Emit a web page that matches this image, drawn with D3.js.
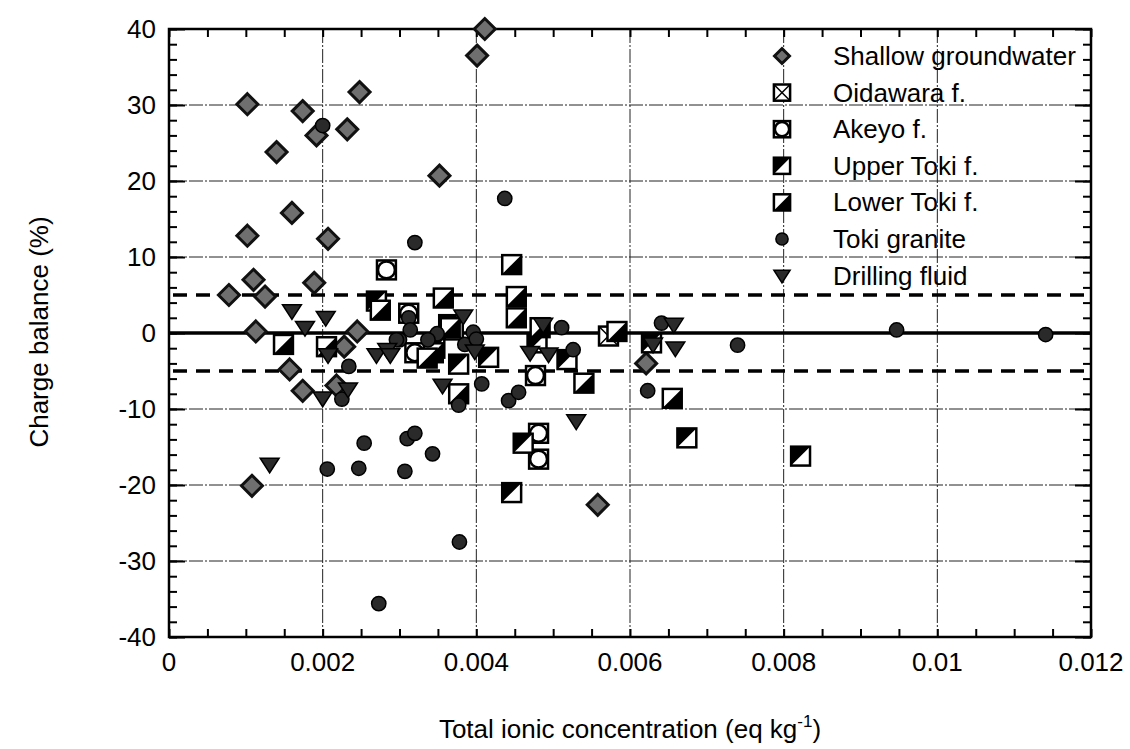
<!DOCTYPE html>
<html>
<head>
<meta charset="utf-8">
<script src="https://cdn.jsdelivr.net/npm/d3@7"></script>
<style>
  body { margin: 0; background: #fff; }
  svg { font-family: "Liberation Sans", Arial, Helvetica, sans-serif; }
</style>
</head>
<body>
<svg id="chart" width="1130" height="749"></svg>
<script>
// data: [total ionic concentration (eq/kg), charge balance (%)]
const shallowGroundwater = [
  [0.00411, 40], [0.00401, 36.5], [0.00248, 31.7], [0.00102, 30.1], [0.00174, 29.2],
  [0.00232, 26.8], [0.00192, 26.0], [0.0014, 23.8], [0.00352, 20.7], [0.0016, 15.8],
  [0.00102, 12.8], [0.00207, 12.4], [0.0011, 7.0], [0.00189, 6.6], [0.00078, 5.0],
  [0.00125, 4.8], [0.00113, 0.2], [0.00245, 0.2], [0.00228, -1.8], [0.00157, -4.8],
  [0.00174, -7.6], [0.00218, -6.9], [0.00108, -20.1], [0.00621, -4.0], [0.00558, -22.6]
];
const oidawara = [[0.00572, -0.4], [0.0037, 0.4]];
const akeyo = [
  [0.00283, 8.3], [0.00312, 2.6], [0.0032, -2.6], [0.00477, -5.6],
  [0.00481, -13.2], [0.00481, -16.6]
];
const upperToki = [
  [0.0027, 4.2], [0.00479, -1.3], [0.00518, -3.5], [0.00461, -14.5], [0.00446, -21.0],
  [0.00674, -13.8], [0.00822, -16.2], [0.00377, -4.1], [0.00346, -2.0], [0.00416, -3.2],
  [0.00628, -1.3], [0.00364, 1.1]
];
const lowerToki = [
  [0.00446, 9.0], [0.00357, 4.6], [0.00452, 4.8], [0.00452, 2.0], [0.00483, 0.7],
  [0.0054, -6.6], [0.00655, -8.6], [0.00583, 0.2], [0.00149, -1.5], [0.00205, -1.8],
  [0.00275, 3.0], [0.00366, 0.7], [0.00344, -2.6], [0.00377, -8.0], [0.00336, -3.3]
];
const tokiGranite = [
  [0.0020, 27.3], [0.00437, 17.7], [0.0032, 11.9], [0.00312, 2.0], [0.003, -0.9],
  [0.00314, 0.4], [0.00234, -4.4], [0.00225, -8.7], [0.00407, -6.7], [0.00377, -9.5],
  [0.00349, -0.1], [0.00396, 0.1], [0.00337, -0.9], [0.00511, 0.7], [0.00526, -2.2],
  [0.00442, -8.9], [0.00455, -7.8], [0.00641, 1.3], [0.00623, -7.6], [0.00343, -15.9],
  [0.00378, -27.5], [0.0074, -1.6], [0.00947, 0.4], [0.01141, -0.2], [0.00254, -14.5],
  [0.00206, -17.9], [0.00247, -17.8], [0.0031, -13.9], [0.0032, -13.2], [0.00307, -18.2],
  [0.00273, -35.6], [0.00296, -0.9], [0.00385, -1.5], [0.0040, -0.8]
];
const drillingFluid = [
  [0.0016, 2.9], [0.00204, 2.0], [0.00177, 0.7], [0.00207, -2.9], [0.002, -8.6],
  [0.00233, -7.4], [0.0027, -2.9], [0.00284, -2.2], [0.00131, -17.3], [0.00356, -6.9],
  [0.00398, -2.4], [0.0047, -2.6], [0.00494, -2.8], [0.00383, 2.2], [0.00657, 1.1],
  [0.00659, -2.0], [0.0053, -11.6], [0.00288, -2.9], [0.0063, -1.5], [0.00487, 1.1]
];

const xTicks = [0, 0.002, 0.004, 0.006, 0.008, 0.01, 0.012];
const xTickLabels = ["0", "0.002", "0.004", "0.006", "0.008", "0.01", "0.012"];
const yTicks = [-40, -30, -20, -10, 0, 10, 20, 30, 40];
const limitLines = [5, -5];

const series = [
  { name: "Shallow groundwater", mark: "diamond", data: shallowGroundwater },
  { name: "Oidawara f.", mark: "cross", data: oidawara },
  { name: "Akeyo f.", mark: "ring", data: akeyo },
  { name: "Upper Toki f.", mark: "upper", data: upperToki },
  { name: "Lower Toki f.", mark: "lower", data: lowerToki },
  { name: "Toki granite", mark: "circle", data: tokiGranite },
  { name: "Drilling fluid", mark: "triangle", data: drillingFluid }
];

const pLeft = 169, pRight = 1091, pTop = 29, pBottom = 637;
const svg = d3.select("#chart");

const x = d3.scaleLinear().domain([0, 0.012]).range([pLeft, pRight]);
const y = d3.scaleLinear().domain([-40, 40]).range([pBottom, pTop]);

// grid
const grid = svg.append("g").attr("stroke", "#222").attr("stroke-width", 1)
  .attr("stroke-dasharray", "14,2,2,2");
grid.selectAll("line.gx").data(xTicks.slice(1, -1)).enter().append("line")
  .attr("x1", d => x(d)).attr("x2", d => x(d)).attr("y1", pTop).attr("y2", pBottom);
grid.selectAll("line.gy").data(yTicks.filter(d => d !== 0 && Math.abs(d) !== 40)).enter().append("line")
  .attr("y1", d => y(d)).attr("y2", d => y(d)).attr("x1", pLeft).attr("x2", pRight);

// reference lines
svg.append("line").attr("x1", pLeft).attr("x2", pRight).attr("y1", y(0)).attr("y2", y(0))
  .attr("stroke", "#000").attr("stroke-width", 3.5);
svg.selectAll("line.lim").data(limitLines).enter().append("line")
  .attr("x1", pLeft + 4).attr("x2", pRight).attr("y1", d => y(d)).attr("y2", d => y(d))
  .attr("stroke", "#000").attr("stroke-width", 3.5).attr("stroke-dasharray", "14,9");

// axes: ticks inward on all four sides
const xMinor = d3.range(0, 0.01201, 0.0005);
const yMinor = d3.range(-40, 40.01, 2);
svg.append("g").attr("transform", `translate(0,${pBottom})`)
  .call(d3.axisBottom(x).tickValues(xMinor).tickSize(-8).tickFormat(""));
svg.append("g").attr("transform", `translate(0,${pTop})`)
  .call(d3.axisTop(x).tickValues(xMinor).tickSize(-8).tickFormat(""));
svg.append("g").attr("transform", `translate(${pLeft},0)`)
  .call(d3.axisLeft(y).tickValues(yMinor).tickSize(-8).tickFormat(""));
svg.append("g").attr("transform", `translate(${pRight},0)`)
  .call(d3.axisRight(y).tickValues(yMinor).tickSize(-8).tickFormat(""));
svg.append("g").attr("transform", `translate(${pLeft},0)`)
  .call(d3.axisLeft(y).tickValues(yTicks).tickSize(-16).tickFormat(""));
svg.append("g").attr("transform", `translate(${pRight},0)`)
  .call(d3.axisRight(y).tickValues(yTicks).tickSize(-16).tickFormat(""));
svg.selectAll(".domain").remove();
svg.selectAll(".tick line").attr("stroke", "#000").attr("stroke-width", 2);

svg.append("rect").attr("x", pLeft).attr("y", pTop).attr("width", pRight - pLeft).attr("height", pBottom - pTop)
  .attr("fill", "none").attr("stroke", "#000").attr("stroke-width", 2.5);

// tick labels
svg.selectAll("text.xl").data(xTicks).enter().append("text")
  .attr("x", d => x(d)).attr("y", pBottom + 34).attr("text-anchor", "middle")
  .attr("font-size", 26).text((d, i) => xTickLabels[i]);
svg.selectAll("text.yl").data(yTicks).enter().append("text")
  .attr("x", pLeft - 13).attr("y", d => y(d) + 9).attr("text-anchor", "end")
  .attr("font-size", 26).text(d => d);

// axis titles
const xt = svg.append("text").attr("x", (pLeft + pRight) / 2).attr("y", 738)
  .attr("text-anchor", "middle").attr("font-size", 26);
xt.append("tspan").text("Total ionic concentration (eq kg");
xt.append("tspan").attr("dy", -11).attr("font-size", 17).text("-1");
xt.append("tspan").attr("dy", 11).text(")");
svg.append("text").attr("transform", "translate(48,332) rotate(-90)")
  .attr("text-anchor", "middle").attr("font-size", 26).text("Charge balance (%)");

// marker shapes
function drawMark(g, mark, s) {
  const h = s / 2;
  if (mark === "diamond") {
    g.append("path").attr("d", `M0,${-h}L${h},0L0,${h}L${-h},0Z`)
      .attr("fill", "#6f6f6f").attr("stroke", "#111").attr("stroke-width", 3);
  } else if (mark === "circle") {
    g.append("circle").attr("r", h * 0.68).attr("fill", "#2a2a2a")
      .attr("stroke", "#000").attr("stroke-width", 1.5);
  } else if (mark === "triangle") {
    g.append("path").attr("d", `M${-h * 0.9},${-h * 0.6}L${h * 0.9},${-h * 0.6}L0,${h * 0.8}Z`)
      .attr("fill", "#2a2a2a").attr("stroke", "#000").attr("stroke-width", 1.5);
  } else {
    const q = h * 0.9;
    g.append("rect").attr("x", -q).attr("y", -q).attr("width", 2 * q).attr("height", 2 * q)
      .attr("fill", "#fff").attr("stroke", "#000").attr("stroke-width", 2.5);
    if (mark === "upper") {
      g.append("path").attr("d", `M${-q},${-q}L${q},${-q}L${-q},${q}Z`).attr("fill", "#000");
    } else if (mark === "lower") {
      g.append("path").attr("d", `M${-q},${q}L${q},${q}L${q},${-q}Z`).attr("fill", "#000");
    } else if (mark === "ring") {
      g.append("circle").attr("r", q - 1).attr("fill", "#fff")
        .attr("stroke", "#000").attr("stroke-width", 2.5);
    } else if (mark === "cross") {
      g.append("path").attr("d", `M${-q},${-q}L${q},${q}M${q},${-q}L${-q},${q}`)
        .attr("stroke", "#000").attr("stroke-width", 1.5);
    }
  }
}

// points
series.forEach(s => {
  const pts = svg.append("g").selectAll("g").data(s.data).enter().append("g")
    .attr("transform", d => `translate(${x(d[0])},${y(d[1])})`);
  pts.each(function () { drawMark(d3.select(this), s.mark, 21); });
});

// legend
const legend = svg.append("g");
series.forEach((s, i) => {
  const ly = 56 + i * 36.6;
  const g = legend.append("g").attr("transform", `translate(782,${ly})`);
  drawMark(g, s.mark, s.mark === "diamond" ? 15 : 18);
  legend.append("text").attr("x", 833).attr("y", ly + 9).attr("font-size", 26).text(s.name);
});
</script>
</body>
</html>
